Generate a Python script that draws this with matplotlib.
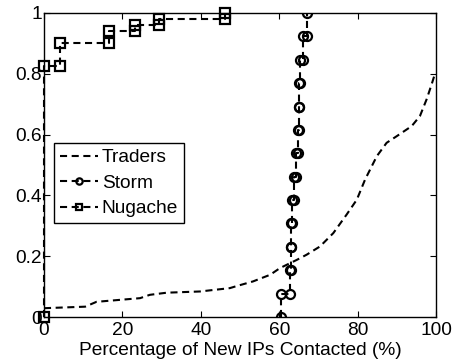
import matplotlib
matplotlib.use("Agg")
import matplotlib.pyplot as plt

plt.rcParams['font.family'] = ['Liberation Sans', 'DejaVu Sans']

# Traders: empirical CDF sampled along the curve
traders_x = [0, 10.5, 13.4, 24.5, 27.0, 31.3, 39.8, 47.4, 49.2, 53.3, 57.7, 60.2,
             64.5, 67.0, 70.4, 73.8, 77.2, 79.8, 81.9, 84.9, 87.4, 90.0, 93.8,
             95.9, 97.6, 98.9, 99.7]
traders_y = [0.029, 0.034, 0.050, 0.062, 0.073, 0.080, 0.084, 0.095, 0.102, 0.117,
             0.139, 0.161, 0.188, 0.205, 0.232, 0.276, 0.337, 0.386, 0.452, 0.529,
             0.573, 0.595, 0.628, 0.661, 0.716, 0.766, 0.799]

# Storm: step CDF, x of each step and the cumulative levels
storm_x = [60.5, 62.8, 63.0, 63.0, 63.2, 63.8, 64.3, 64.8, 65.0, 65.0, 65.3, 66.0, 67.0]
storm_levels = [k / 13 for k in range(14)]

# Nugache: step CDF
nugache_x = [0, 4.1, 16.5, 23.1, 29.3, 46.2]
nugache_levels = [0, 0.825, 0.90, 0.94, 0.96, 0.98, 1.0]

x_ticks = [0, 20, 40, 60, 80, 100]
y_ticks = [0, 0.2, 0.4, 0.6, 0.8, 1.0]
y_tick_labels = ["0", "0.2", "0.4", "0.6", "0.8", "1"]


def stair_points(xs, levels):
    px, py = [], []
    for i, x in enumerate(xs):
        px += [x, x]
        py += [levels[i], levels[i + 1]]
    return px, py


fig = plt.figure(figsize=(4.53, 3.6), dpi=100)
ax = fig.add_axes([0.0971, 0.1194, 0.8654, 0.8445])

dash = (0, (3.4, 2.2))
lw = 1.5
fs = 13.8

ax.plot(traders_x, traders_y, color='black', lw=lw, linestyle=dash, label='Traders')

sx, sy = stair_points(storm_x, storm_levels)
ax.plot(sx, sy, color='black', lw=lw, linestyle=dash, marker='o', markersize=6.5,
        markerfacecolor='none', markeredgewidth=1.6, label='Storm')

nx, ny = stair_points(nugache_x, nugache_levels)
ax.plot(nx, ny, color='black', lw=lw, linestyle=dash, marker='s', markersize=6.5,
        markerfacecolor='none', markeredgewidth=1.6, label='Nugache', clip_on=False)

ax.set_xlim(0, 100)
ax.set_ylim(0, 1)
ax.set_xticks(x_ticks)
ax.set_yticks(y_ticks)
ax.set_yticklabels(y_tick_labels)
ax.tick_params(direction='in', top=True, right=True, length=4, width=0.8,
               labelsize=fs, pad=1.5, colors='black')
ax.tick_params(axis='x', pad=3.5)
for s in ax.spines.values():
    s.set_linewidth(1.0)
ax.set_xlabel("Percentage of New IPs Contacted (%)", fontsize=fs, labelpad=2)

leg = ax.legend(loc='upper left', bbox_to_anchor=(0.025, 0.572), borderaxespad=0,
                fontsize=fs, handlelength=2.0, handletextpad=0.2, markerscale=0.7,
                labelspacing=0.42, borderpad=0.3, fancybox=False, framealpha=1)
leg.get_frame().set_edgecolor('black')
leg.get_frame().set_linewidth(1.0)

fig.savefig("out.png", dpi=100)
